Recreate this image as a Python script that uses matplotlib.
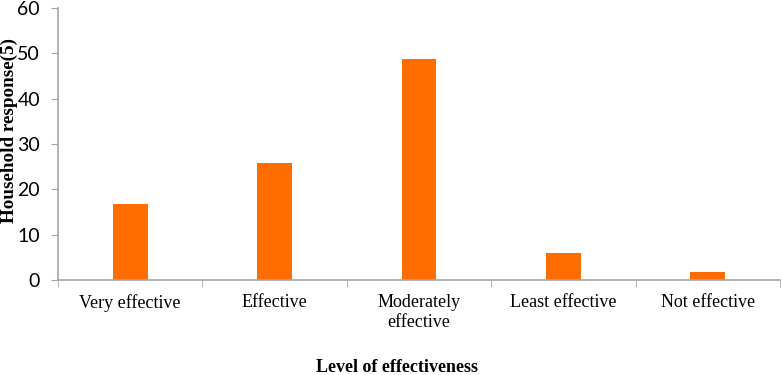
import numpy as np
import matplotlib.pyplot as plt

# Level of effectiveness vs household response
categories = ['Very effective', 'Effective', 'Moderately\neffective',
              'Least effective', 'Not effective']
responses = [16.8, 25.8, 48.8, 5.9, 1.8]

bar_color = '#FF6D00'
axis_color = '#A6A6A6'

fig = plt.figure(figsize=(7.82, 3.75), dpi=100)
ax = fig.add_axes([58 / 782, 1 - 280 / 375, 722 / 782, 272 / 375])

x = np.arange(len(categories))
ax.bar(x, responses, width=0.24, color=bar_color)

# Axis limits and ticks
ax.set_xlim(-0.5, len(categories) - 0.5)
ax.set_ylim(0, 60)
ax.set_yticks(np.arange(0, 61, 10))
ax.set_xticks(x)
ax.set_xticklabels(categories, family='Liberation Serif', fontsize=13,
                   linespacing=1.25)
ax.set_xticks(np.arange(-0.5, len(categories), 1.0), minor=True)
ax.tick_params(axis='x', which='major', length=0, pad=10)
ax.tick_params(axis='x', which='minor', length=5, color=axis_color)
ax.tick_params(axis='y', length=5, color=axis_color, pad=8)
for lab in ax.get_yticklabels():
    lab.set_family('Lato')
    lab.set_fontsize(14)

for side in ['top', 'right']:
    ax.spines[side].set_visible(False)
for side in ['left', 'bottom']:
    ax.spines[side].set_color(axis_color)
    ax.spines[side].set_linewidth(1.2)

# Axis titles
fig.text(9 / 782, 1 - 131 / 375, 'Household response(5)', rotation=90,
         ha='center', va='center', family='Liberation Serif',
         fontweight='bold', fontsize=13.8)
fig.text(397 / 782, 1 - 368 / 375, 'Level of effectiveness', ha='center',
         va='center', family='Liberation Serif', fontweight='bold',
         fontsize=13)

fig.savefig('out.png', dpi=100)
